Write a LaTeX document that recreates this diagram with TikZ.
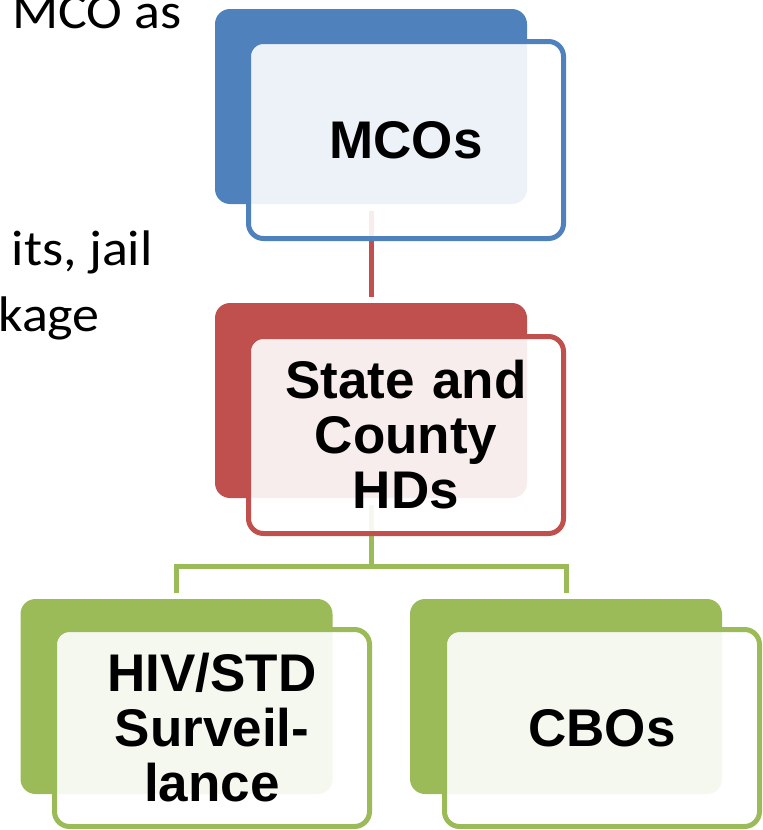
\documentclass[tikz,border=0pt]{standalone}
\usepackage{fontspec}
\setmainfont{Liberation Sans}
\newfontfamily\slidefont[FakeStretch=1.08]{Carlito}
\definecolor{mcoblue}{HTML}{4F81BD}
\definecolor{hdred}{HTML}{C0504D}
\definecolor{cbogreen}{HTML}{9BBB59}
\newcommand{\boxfont}{\fontsize{53}{55}\selectfont\bfseries}
\newcommand{\slidetext}{\slidefont\fontsize{50}{60}\selectfont}

\begin{document}
\begin{tikzpicture}[x=1pt,y=-1pt,
	back/.style={rectangle,rounded corners=15pt,minimum width=312pt,%
		minimum height=195pt,fill=#1,inner sep=0pt,outer sep=0pt},
	front/.style={rectangle,rounded corners=15pt,minimum width=315pt,%
		minimum height=197pt,draw=#1,line width=5pt,fill=white,%
		fill opacity=0.9,text opacity=1,text width=300pt,align=center,%
		font=\boxfont,inner sep=0pt},
	link/.style={line width=5pt,draw=#1,shorten <=7pt,shorten >=6pt},
	slide/.style={anchor=base east,inner sep=0pt,font=\slidetext}
	]
	\clip (0,0) rectangle (763,830);

	% text of the slide behind the chart
	\node[slide] (goal) at (182,28) {MCO as};
	\node[slide] (visits) at (153,265) {its, jail};
	\node[slide] (linkage) at (100,331) {kage};

	% coloured back plates
	\node[back=mcoblue] (mcoback) at (371,106.5) {};
	\node[back=hdred] (hdback) at (371,400.5) {};
	\node[back=cbogreen] (survback) at (176.5,696.5) {};
	\node[back=cbogreen] (cboback) at (566,696.5) {};

	% connectors
	\coordinate (fork) at (371,566);
	\draw[link=hdred] (mcoback.south) -- (hdback.north);
	\draw[link=cbogreen,shorten >=0pt] (hdback.south) -- (fork);
	\draw[link=cbogreen,shorten <=0pt] (fork) -| (survback.north);
	\draw[link=cbogreen,shorten <=0pt] (fork) -| (cboback.north);

	% front cards with the labels
	\node[front=mcoblue] (mco) at (406,140) {MCOs};
	\node[front=hdred] (hd) at (406,435) {State and\\County\\HDs};
	\node[front=cbogreen] (surv) at (212,728) {HIV/STD\\Surveil-\\lance};
	\node[front=cbogreen] (cbo) at (602,728) {CBOs};
\end{tikzpicture}
\end{document}
